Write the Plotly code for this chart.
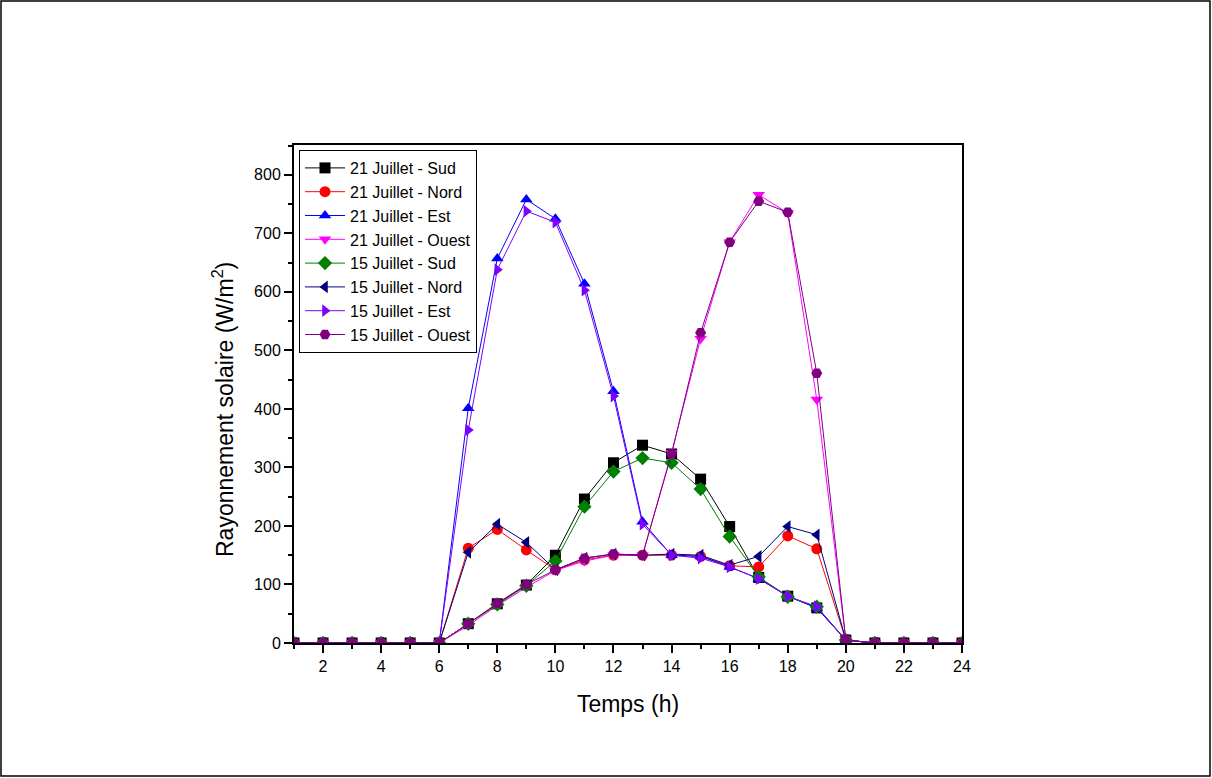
import plotly.graph_objects as go

hours = list(range(1, 25))

sud_21 = [0, 0, 0, 0, 0, 0, 33, 67, 99, 150, 246, 308, 338, 323, 280, 199, 112, 80, 60, 5, 0, 0, 0, 0]
nord_21 = [0, 0, 0, 0, 0, 0, 162, 194, 159, 125, 142, 150, 150, 150, 148, 132, 130, 183, 161, 5, 0, 0, 0, 0]
est_21 = [0, 0, 0, 0, 0, 0, 401, 657, 758, 725, 614, 430, 207, 150, 148, 130, 110, 80, 60, 5, 0, 0, 0, 0]
ouest_21 = [0, 0, 0, 0, 0, 0, 30, 64, 95, 124, 140, 150, 150, 325, 520, 685, 766, 735, 416, 5, 0, 0, 0, 0]
sud_15 = [0, 0, 0, 0, 0, 0, 33, 66, 98, 140, 233, 293, 316, 308, 263, 182, 113, 79, 62, 5, 0, 0, 0, 0]
nord_15 = [0, 0, 0, 0, 0, 0, 155, 203, 172, 125, 145, 152, 150, 152, 150, 133, 148, 199, 185, 5, 0, 0, 0, 0]
est_15 = [0, 0, 0, 0, 0, 0, 364, 638, 738, 719, 603, 422, 203, 150, 145, 130, 110, 80, 62, 5, 0, 0, 0, 0]
ouest_15 = [0, 0, 0, 0, 0, 0, 33, 68, 100, 125, 145, 152, 150, 323, 530, 685, 755, 736, 461, 5, 0, 0, 0, 0]

series = [
    ("21 Juillet - Sud", sud_21, "#000000", "square"),
    ("21 Juillet - Nord", nord_21, "#FF0000", "circle"),
    ("21 Juillet - Est", est_21, "#0000FF", "triangle-up"),
    ("21 Juillet - Ouest", ouest_21, "#FF00FF", "triangle-down"),
    ("15 Juillet - Sud", sud_15, "#008000", "diamond"),
    ("15 Juillet - Nord", nord_15, "#000080", "triangle-left"),
    ("15 Juillet - Est", est_15, "#8000FF", "triangle-right"),
    ("15 Juillet - Ouest", ouest_15, "#800080", "hexagon2"),
]

fig = go.Figure()
for name, vals, col, sym in series:
    fig.add_trace(go.Scatter(
        x=hours, y=vals, name=name, mode="lines+markers",
        line=dict(color=col, width=1),
        marker=dict(symbol=sym, size=11, color=col, line=dict(width=0)),
    ))

W, H = 1212, 778
L, R, T, B = 294, 250, 145, 135
pw, ph = W - L - R, H - T - B

fig.update_layout(
    width=W, height=H,
    margin=dict(l=L, r=R, t=T, b=B, pad=0),
    paper_bgcolor="white", plot_bgcolor="white",
    font=dict(family="Liberation Sans, Arial, sans-serif", color="black", size=16),
    showlegend=True,
    legend=dict(
        x=5 / pw, y=1 - 5 / ph, xanchor="left", yanchor="top",
        bgcolor="white", bordercolor="black", borderwidth=1,
        font=dict(size=16, family="Liberation Sans, Arial, sans-serif"),
        tracegroupgap=0, itemwidth=40,
    ),
    xaxis=dict(
        range=[1, 24], tickmode="array", tickvals=list(range(2, 25, 2)),
        showgrid=False, zeroline=False,
        showline=True, linecolor="black", linewidth=2, mirror=True,
        ticks="outside", ticklen=8, tickwidth=2, tickcolor="black",
        minor=dict(tickvals=list(range(1, 25, 2)), ticks="outside", ticklen=4, tickwidth=2, tickcolor="black"),
        tickfont=dict(size=16),
        title=dict(text="Temps (h)", font=dict(size=23), standoff=22),
    ),
    yaxis=dict(
        range=[0, 851], tickmode="array", tickvals=list(range(0, 801, 100)),
        showgrid=False, zeroline=False,
        showline=True, linecolor="black", linewidth=2, mirror=True,
        ticks="outside", ticklen=8, tickwidth=2, tickcolor="black",
        minor=dict(tickvals=list(range(50, 851, 100)), ticks="outside", ticklen=4, tickwidth=2, tickcolor="black"),
        tickfont=dict(size=16),
    ),
)

# y-axis title (placed as in the reference, slightly below the plot centre)
fig.add_annotation(
    text="Rayonnement solaire (W/m<sup>2</sup>)",
    xref="paper", yref="paper",
    x=(223 - L) / pw, y=1 - (410 - T) / ph,
    xanchor="center", yanchor="middle",
    textangle=-90, showarrow=False,
    font=dict(size=23, family="Liberation Sans, Arial, sans-serif", color="black"),
)

# outer frame around the whole canvas
fig.add_shape(
    type="rect", xref="paper", yref="paper",
    x0=(1 - L) / pw, x1=(W - 2 - L) / pw,
    y0=1 + (T - (H - 2)) / ph, y1=1 + (T - 1) / ph,
    line=dict(color="black", width=1.5), fillcolor="rgba(0,0,0,0)",
    layer="below",
)

fig.write_html("out.html")
